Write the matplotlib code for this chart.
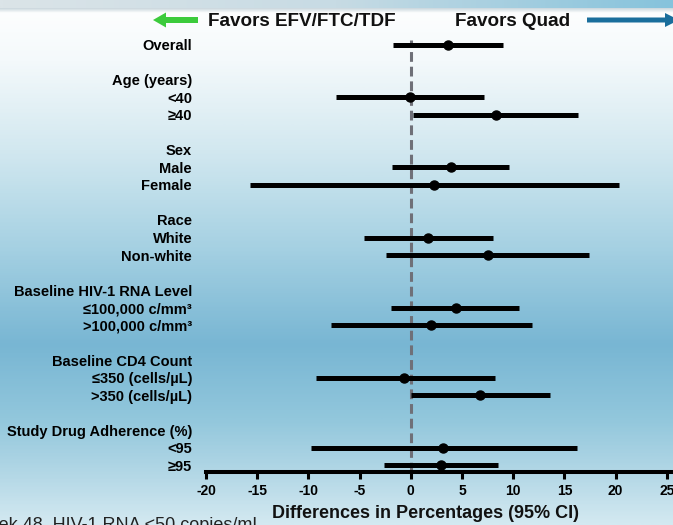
import numpy as np
import matplotlib.pyplot as plt
from matplotlib.colors import LinearSegmentedColormap
from matplotlib.patches import FancyArrow

plt.rcParams['font.family'] = ['Liberation Sans', 'DejaVu Sans']

# subgroup rows (header rows have no estimate)
labels = ['Overall', '', 'Age (years)', '<40', '≥40', '', 'Sex', 'Male', 'Female', '',
          'Race', 'White', 'Non-white', '', 'Baseline HIV-1 RNA Level',
          '≤100,000 c/mm³', '>100,000 c/mm³', '', 'Baseline CD4 Count',
          '≤350 (cells/µL)', '>350 (cells/µL)', '', 'Study Drug Adherence (%)',
          '<95', '≥95']
rows = [0, 3, 4, 7, 8, 11, 12, 15, 16, 19, 20, 23, 24]
est = [3.6, -0.1, 8.3, 3.9, 2.3, 1.7, 7.5, 4.4, 2.0, -0.7, 6.8, 3.1, 2.9]
lo = [-1.7, -7.3, 0.2, -1.85, -15.7, -4.6, -2.4, -1.9, -7.8, -9.3, 0.0, -9.7, -2.65]
hi = [9.0, 7.1, 16.3, 9.6, 20.3, 8.0, 17.4, 10.6, 11.8, 8.2, 13.6, 16.2, 8.5]
xticks = [-20, -15, -10, -5, 0, 5, 10, 15, 20, 25]

W, H = 673, 525
fig = plt.figure(figsize=(W / 100, H / 100), dpi=100)

# slide background gradient
bg = fig.add_axes([0, 0, 1, 1])
stops = [(0.0, '#ffffff'), (60 / H, '#f4f9fb'), (150 / H, '#d2e8f0'),
         (250 / H, '#a4d0e2'), (345 / H, '#78b6d3'), (420 / H, '#92c7dc'),
         (480 / H, '#b6d9e7'), (1.0, '#d3e9f1')]
cmap = LinearSegmentedColormap.from_list('bg', stops)
grad = np.linspace(0, 1, 400).reshape(-1, 1)
bg.imshow(grad, cmap=cmap, aspect='auto', extent=[0, W, H, 0])
strip = np.linspace(0, 1, 300).reshape(1, -1)
scm = LinearSegmentedColormap.from_list('strip', ['#dbe4e8', '#c7dbe4', '#86c3dc'])
bg.imshow(strip, cmap=scm, aspect='auto', extent=[0, W, 8, 0])
shade = LinearSegmentedColormap.from_list('sh', ['#c9d6dc', '#ffffff'])
bg.imshow(np.linspace(0, 1, 50).reshape(-1, 1), cmap=shade, aspect='auto',
          extent=[0, W, 13, 8])
bg.set_xlim(0, W)
bg.set_ylim(H, 0)
bg.axis('off')

# header arrows
bg.add_patch(FancyArrow(198, 20, -45, 0, width=6, head_width=15, head_length=13,
                        length_includes_head=True, color='#3ccb3c', lw=0))
bg.add_patch(FancyArrow(587, 20, 92, 0, width=5, head_width=14, head_length=14,
                        length_includes_head=True, color='#1a6e9c', lw=0))
fig.text(208 / W, 1 - 21 / H, 'Favors EFV/FTC/TDF', fontsize=13.6,
         fontweight='bold', ha='left', va='center', color='#111111')
fig.text(455 / W, 1 - 21 / H, 'Favors Quad', fontsize=13.6,
         fontweight='bold', ha='left', va='center', color='#111111')

ax = fig.add_axes([206 / W, 1 - 471.5 / H, 1 - 206 / W, (471.5 - 40) / H])
ax.set_facecolor('none')
ax.axvline(0, color='#6f7078', lw=2.2, ls=(0, (3.2, 1.6)), zorder=1)
ax.hlines(rows, lo, hi, color='black', lw=3.6, capstyle='butt', zorder=2)
ax.plot(est, rows, 'o', ms=6.5, color='black', zorder=3)

ax.set_xlim(-20, 25.6)
ax.set_ylim(24 + 6.5 / 17.54, -5 / 17.54)
ax.set_xticks(xticks)
ax.set_xticklabels([str(t) for t in xticks], fontsize=10, fontweight='bold')
ax.set_yticks(range(len(labels)))
ax.set_yticklabels(labels, fontsize=10.5, fontweight='bold')
ax.tick_params(axis='y', length=0, pad=10)
ax.tick_params(axis='x', length=5, width=2.2, direction='out', pad=4)
for s in ['top', 'right', 'left']:
    ax.spines[s].set_visible(False)
ax.spines['bottom'].set_linewidth(2.9)

fig.text(425 / W, 1 - 513 / H, 'Differences in Percentages (95% CI)',
         fontsize=13, fontweight='bold', ha='center', va='center', color='#111111')
fig.text(262 / W, 1 - 517 / H, 'Week 48, HIV-1 RNA <50 copies/mL',
         fontsize=13, ha='right', va='top', color='#222222')

fig.savefig('out.png', dpi=100)
